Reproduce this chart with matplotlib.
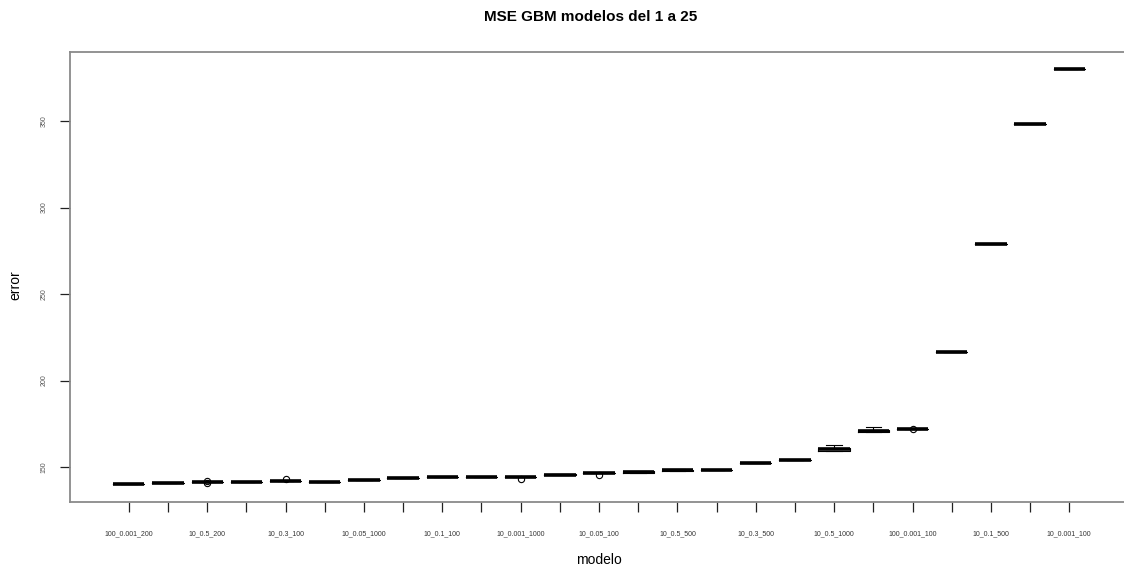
import matplotlib
matplotlib.use("Agg")
import matplotlib.pyplot as plt

plt.rcParams['font.family'] = ['Liberation Sans', 'DejaVu Sans']

# etiquetas visibles (una de cada dos posiciones)
etiquetas = ['100_0.001_200', '10_0.5_200', '10_0.3_100', '10_0.05_1000',
             '10_0.1_100', '10_0.001_1000', '10_0.05_100', '10_0.5_500',
             '10_0.3_500', '10_0.5_1000', '100_0.001_100', '10_0.1_500',
             '10_0.001_100']

# resumen de cada caja, modelos 1 a 25
medianas = [140.2, 140.9, 141.5, 141.5, 141.7, 141.5, 142.5, 143.4, 144.2,
            144.2, 144.4, 145.5, 146.5, 147.1, 148.1, 148.4, 152.5, 154.0,
            160.2, 170.6, 172.2, 216.5, 278.9, 348.3, 380.2]
q1 = [140.2, 140.5, 141.5, 141.5, 141.7, 141.5, 142.5, 143.4, 144.2,
      144.2, 144.4, 145.3, 146.5, 146.6, 147.8, 148.4, 152.5, 154.0,
      159.5, 170.2, 172.2, 216.5, 278.9, 348.3, 380.2]
q3 = [140.2, 141.0, 141.5, 141.5, 141.7, 141.5, 142.5, 143.4, 144.2,
      144.2, 144.4, 145.8, 146.5, 147.8, 148.5, 148.4, 152.5, 154.0,
      161.2, 171.4, 172.2, 216.5, 278.9, 348.3, 380.2]
bigote_inf = list(q1)
bigote_sup = [140.2, 141.0, 141.5, 141.5, 141.7, 141.5, 142.5, 143.4, 144.2,
              144.2, 144.4, 145.8, 146.5, 147.8, 148.8, 148.4, 152.5, 154.0,
              162.6, 173.2, 172.2, 216.5, 278.9, 348.3, 380.2]
atipicos = {3: [142.1, 140.5], 5: [143.0], 11: [142.9], 13: [145.6],
            21: [172.2]}

stats = []
for i in range(25):
    stats.append(dict(med=medianas[i], q1=q1[i], q3=q3[i],
                      whislo=bigote_inf[i], whishi=bigote_sup[i],
                      fliers=atipicos.get(i + 1, [])))

fig = plt.figure(figsize=(11.24, 5.70), dpi=100)
ax = fig.add_axes([0.0623, 0.1193, 0.9413, 0.7895])

pos = list(range(1, 26))
ax.bxp(stats, positions=pos, widths=0.8, showfliers=True,
       boxprops=dict(color='black', lw=0.8),
       medianprops=dict(color='black', lw=2.6, solid_capstyle='butt'),
       whiskerprops=dict(color='black', lw=0.8, linestyle='--'),
       capprops=dict(color='black', lw=0.8),
       flierprops=dict(marker='o', mfc='none', mec='black', ms=4.5, mew=0.8))

ax.set_xlim(-0.5, 26.5)
ax.set_ylim(129.8, 389.9)

ax.set_xticks(pos)
ax.set_xticklabels([etiquetas[i // 2] if i % 2 == 0 else '' for i in range(25)],
                   fontsize=5, color='#333333')
ax.set_yticks([150, 200, 250, 300, 350])
ax.set_yticklabels(['150', '200', '250', '300', '350'], rotation=90,
                   va='center', fontsize=5, color='#555555')
ax.tick_params(axis='both', length=7, width=0.9, color='#222222', pad=13)
ax.tick_params(axis='y', pad=9)

for s in ax.spines.values():
    s.set_color('#8a8a8a')
    s.set_linewidth(1.3)
ax.spines['right'].set_visible(False)

fig.text(591 / 1124, 1 - 17 / 570, 'MSE GBM modelos del 1 a 25', ha='center',
         va='center', fontsize=11, fontweight='bold')
fig.text(15 / 1124, 1 - 285 / 570, 'error', rotation=90, ha='center',
         va='center', fontsize=10)
fig.text(599 / 1124, 1 - 560 / 570, 'modelo', ha='center', va='center',
         fontsize=10)

fig.savefig('out.png', dpi=100)
